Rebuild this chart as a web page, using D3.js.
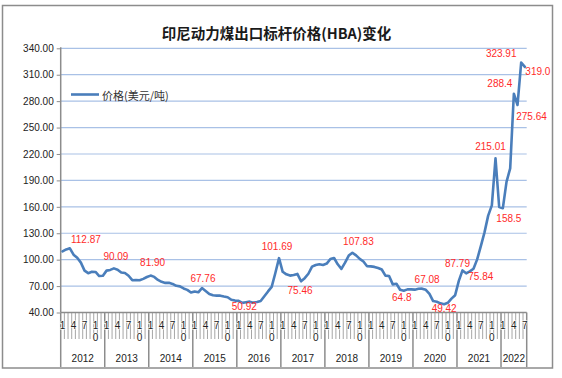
<!DOCTYPE html>
<html><head><meta charset="utf-8">
<script src="https://cdn.jsdelivr.net/npm/d3@7"></script>
<style>html,body{margin:0;padding:0;background:#fff;}svg{display:block;}</style>
</head><body>
<svg id="c" width="562" height="378"></svg>
<script>
const titleText = "印尼动力煤出口标杆价格(HBA)变化";
const seriesName = "价格(美元/吨)";
const years = ["2012","2013","2014","2015","2016","2017","2018","2019","2020","2021","2022"];
const monthTickLabels = ["1","4","7","10"];
const yTicks = [40,70,100,130,160,190,220,250,280,310,340];
const prices = [
 109.29,111.58,112.87,105.61,102.12,96.65,87.56,84.65,86.21,86.04,81.44,81.75,
 87.55,88.35,90.09,88.56,85.33,84.87,81.69,76.70,76.89,76.61,78.19,80.31,
 81.90,80.44,77.01,74.81,73.60,73.64,72.45,70.29,69.69,67.26,65.70,62.65,
 63.84,62.92,67.76,64.48,61.08,59.59,59.16,59.14,58.21,57.39,54.43,53.51,
 53.20,50.92,51.62,52.32,51.20,51.87,53.00,58.37,63.93,69.07,84.89,101.69,
 86.23,83.32,81.90,82.51,83.81,75.46,78.95,83.97,92.03,93.99,94.80,94.04,
 95.54,100.69,101.86,94.75,89.53,96.61,104.65,107.83,104.81,100.89,97.90,92.51,
 92.41,91.80,90.57,88.85,81.86,81.48,71.92,72.67,65.79,64.80,66.27,66.30,
 65.93,66.89,67.08,65.77,61.11,52.98,52.16,50.34,49.42,51.00,55.71,59.65,
 75.84,87.79,84.47,86.68,89.74,100.33,115.35,130.99,150.03,161.63,215.01,159.79,
 158.50,188.38,203.69,288.40,275.64,323.91,319.00
];
const annotIdx  = [2,14,24,38,49,59,65,79,93,98,104,109,108,118,120,123,124,125,126];
const annotText = ["112.87","90.09","81.90","67.76","50.92","101.69","75.46","107.83","64.8","67.08","49.42","87.79","75.84","215.01","158.5","288.4","275.64","323.91","319.0"];
// label placement offsets (style, not data)
const annotOffset = [[16,-9],[2,-12],[2,-13],[1,-9.5],[2,4],[-2,-11.5],[-1,9],[6,-11],[-2,7],[5,-9],[0,4],[-5,-7],[22,-4],[-5,-12],[6,10],[-14,-10],[14,12],[-20,-9],[13,5]];

const svg = d3.select("#c");
const L = 60.7, R = 526.7, T = 48.3, B = 312.5;
const FONT = "'Liberation Sans', Arial, sans-serif";
const CJK = "'Noto Sans CJK SC', sans-serif";

svg.append("rect").attr("x",2.5).attr("y",5.5).attr("width",550).attr("height",362.5)
  .attr("fill","#fff").attr("stroke","#8c8c8c").attr("stroke-width",1.5);

svg.append("text").attr("x",276.5).attr("y",32).attr("text-anchor","middle")
  .attr("dominant-baseline","central").attr("font-family",CJK).attr("font-weight","bold")
  .attr("font-size",14.5).attr("fill","#1a1a1a").text(titleText);

const n = prices.length;
const x = d3.scaleBand().domain(d3.range(n)).range([L,R]).padding(0);
const y = d3.scaleLinear().domain([40,340]).range([B,T]);
const cx = i => x(i) + x.bandwidth()/2;

// gridlines
svg.append("g").selectAll("line").data(yTicks.filter(t=>t>40)).join("line")
  .attr("x1",L).attr("x2",R).attr("y1",d=>y(d)).attr("y2",d=>y(d))
  .attr("stroke","#a9c1e6").attr("stroke-width",1.2);

// y axis
const ya = svg.append("g").attr("transform",`translate(${L},0)`)
  .call(d3.axisLeft(y).tickValues(yTicks).tickFormat(d3.format(".2f")).tickSize(4).tickPadding(3));
ya.select(".domain").attr("stroke","#8c8c8c").attr("stroke-width",1.5).attr("d",`M0,${T-1}V${B}`);
ya.selectAll(".tick line").attr("stroke","#8c8c8c");
ya.selectAll(".tick text").attr("font-family",FONT).attr("font-size",10).attr("fill","#222");

// x axis: category boundary ticks
const step = x.step();
const xa = svg.append("g");
xa.selectAll("line.t").data(d3.range(n+1)).join("line").attr("class","t")
  .attr("x1",i=>L+i*step).attr("x2",i=>L+i*step)
  .attr("y1",B).attr("y2",i=> (i%12===0 || i===n) ? 367 : 339)
  .attr("stroke",i=> (i%12===0 || i===n) ? "#8c8c8c" : "#a6a6a6")
  .attr("stroke-width",i=> (i%12===0 || i===n) ? 1.5 : 1);
xa.append("line").attr("x1",L).attr("x2",R).attr("y1",B).attr("y2",B)
  .attr("stroke","#8c8c8c").attr("stroke-width",1.5);

// month labels
const monthIdx = d3.range(n).filter(i => [0,3,6,9].includes(i%12));
monthIdx.forEach(i=>{
  const lab = monthTickLabels[[0,3,6,9].indexOf(i%12)];
  const g = xa.append("g");
  const lines = lab.length>1 ? lab.split("") : [lab];
  lines.forEach((ch,k)=>{
    g.append("text").attr("x",cx(i)).attr("y",325+k*12.5).attr("text-anchor","middle")
     .attr("dominant-baseline","central").attr("font-family",FONT).attr("font-size",10)
     .attr("fill","#222").attr("stroke","#fff").attr("stroke-width",1.2).attr("paint-order","stroke").text(ch);
  });
});
// year labels
years.forEach((yr,k)=>{
  const s = k*12, e = Math.min(n,(k+1)*12);
  xa.append("text").attr("x",L+(s+e)/2*step).attr("y",358).attr("text-anchor","middle")
    .attr("dominant-baseline","central").attr("font-family",FONT).attr("font-size",10)
    .attr("fill","#222").text(yr);
});

// line
svg.append("path").datum(prices)
  .attr("d", d3.line().x((d,i)=>cx(i)).y(d=>y(d)))
  .attr("fill","none").attr("stroke","#4a7ebb").attr("stroke-width",2.6)
  .attr("stroke-linejoin","round").attr("stroke-linecap","round");

// annotations
svg.append("g").selectAll("text").data(annotIdx).join("text")
  .attr("x",(d,k)=>cx(d)+annotOffset[k][0]).attr("y",(d,k)=>y(prices[d])+annotOffset[k][1])
  .attr("text-anchor","middle").attr("dominant-baseline","central")
  .attr("font-family",FONT).attr("font-size",10).attr("fill","#ff2a2a")
  .text((d,k)=>annotText[k]);

// legend
svg.append("line").attr("x1",71).attr("x2",99).attr("y1",94.5).attr("y2",94.5)
  .attr("stroke","#4a7ebb").attr("stroke-width",2.6);
svg.append("text").attr("x",102).attr("y",95).attr("dominant-baseline","central")
  .attr("font-family",CJK).attr("font-size",11).attr("fill","#333").text(seriesName);
</script>
</body></html>
